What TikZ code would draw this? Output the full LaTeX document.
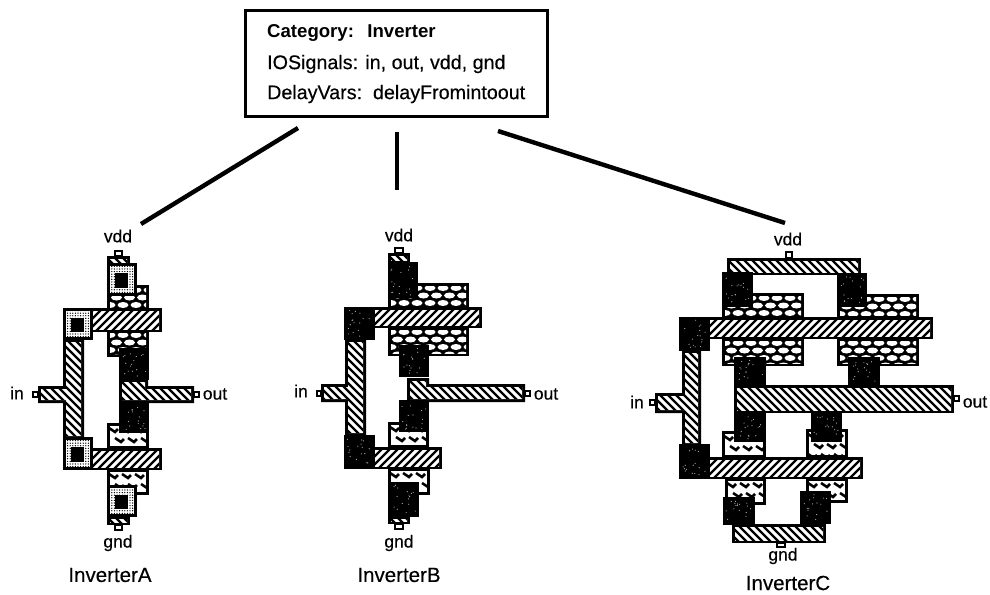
\documentclass[tikz,border=0pt]{standalone}
\usepackage{fontspec}
\setmainfont{Liberation Sans}
\newfontfamily\heavy[FakeBold=0.35]{Liberation Sans}
\usetikzlibrary{patterns.meta}
\newcommand\hlines[5]{% dir x1 y1 x2 y2
 \pgfmathsetmacro\hh{#5-#3}
 \pgfmathtruncatemacro\nn{(#4-#2+\hh)/8+1}
 \foreach \i in {0,...,\nn}{
   \pgfmathsetmacro\xa{#2-\hh+\i*8}
   \ifnum#1=0 \draw[black,line width=2.4pt] (\xa,#5) -- ++(\hh,-\hh);
   \else \draw[black,line width=2.4pt] (\xa,#3) -- ++(\hh,\hh);\fi}}
\newcommand\hbarx[5]{% dir, rect
 \fill[black] (#2,#3) rectangle (#4,#5);
 \begin{scope}\clip ({#2+3},{#3+3}) rectangle ({#4-3},{#5-3});
 \fill[white] (#2,#3) rectangle (#4,#5);
 \hlines{#1}{#2}{#3}{#4}{#5}\end{scope}}
\newcommand\hne[4]{\hbarx{0}{#1}{#2}{#3}{#4}}
\newcommand\hnw[4]{\hbarx{1}{#1}{#2}{#3}{#4}}
% output shape: x1 ytop xn y1 x2 y2
\newcommand\hout[6]{\fill[black] (#1,#2) -- (#3,#2) -- (#3,#4) -- (#5,#4) -- (#5,#6) -- (#1,#6) -- cycle;
 \begin{scope}\clip ({#1+3},{#2+3}) -- ({#3-3},{#2+3}) -- ({#3-3},{#4+3}) -- ({#5-3},{#4+3}) -- ({#5-3},{#6-3}) -- ({#1+3},{#6-3}) -- cycle;
 \fill[white] (#1,#2) rectangle (#5,#6);
 \hlines{1}{#1}{#2}{#5}{#6}\end{scope}}
% vertical poly with stub: vx1 vy1 vx2 vy2 sx sy1 sy2
\newcommand\hcross[7]{\fill[black] (#1,#2) -- (#3,#2) -- (#3,#4) -- (#1,#4) -- (#1,#7) -- (#5,#7) -- (#5,#6) -- (#1,#6) -- cycle;
 \begin{scope}\clip ({#1+3},{#2+3}) -- ({#3-3},{#2+3}) -- ({#3-3},{#4-3}) -- ({#1+3},{#4-3}) -- ({#1+3},{#7-3}) -- ({#5+3},{#7-3}) -- ({#5+3},{#6+3}) -- ({#1+3},{#6+3}) -- cycle;
 \fill[white] (#5,#2) rectangle (#3,#4);
 \hlines{1}{#5}{#2}{#3}{#4}\end{scope}}
\newcommand\scal[4]{\fill[black] (#1,#2) rectangle (#3,#4);
 \begin{scope}\clip ({#1+3},{#2+3}) rectangle ({#3-3},{#4-3});
 \foreach \r in {0,...,5}{\foreach \c in {0,...,7}{
   \pgfmathsetmacro\xx{#1+3+\c*13+mod(\r,2)*6.5}
   \pgfmathsetmacro\yy{#2+5+\r*7.5}
   \fill[white] (\xx,\yy) ellipse (5.5 and 3);}}
 \end{scope}}
\newcommand\squig[4]{\fill[black] (#1,#2) rectangle (#3,#4);
 \fill[white] ({#1+3},{#2+3}) rectangle ({#3-3},{#4-3});
 \begin{scope}\clip ({#1+3},{#2+3}) rectangle ({#3-3},{#4-3});
 \foreach \r in {0,...,3}{\foreach \c in {0,...,4}{
   \pgfmathsetmacro\xx{#1+2+\c*13+mod(\r,2)*6}
   \pgfmathsetmacro\yy{#2+5+\r*10}
   \draw[black,line width=2.6pt] (\xx,\yy) -- ++(6,4) -- ++(3,-3);}}
 \end{scope}}
\newcommand\cont[4]{\fill[black] (#1,#2) rectangle (#3,#4);
 \foreach \k in {1,...,16}{
   \pgfmathsetmacro\xx{#1+3+rnd*(#3-#1-6)}
   \pgfmathsetmacro\yy{#2+3+rnd*(#4-#2-6)}
   \fill[white!70!black] (\xx,\yy) circle (.6);}}
\newcommand\contw[4]{\fill[black] (#1,#2) rectangle (#3,#4);
 \path[fill=white,postaction={pattern={Dots[distance=2.6pt,radius=.7pt]},pattern color=black}] ({#1+3},{#2+3}) rectangle ({#3-3},{#4-3});
 \fill[black] ({#1+8},{#2+10}) rectangle ({#3-9},{#4-8});}
\newcommand\pin[4]{\draw[black,line width=1.5pt,fill=white] (#1,#2) rectangle (#3,#4);}
\tikzset{lab/.style={font=\heavy\fontsize{17.5}{20}\selectfont,inner sep=0pt,text=black},
 title/.style={font=\heavy\fontsize{20.5}{22}\selectfont,inner sep=0pt,text=black},
 link/.style={black,line width=4.4pt},
 card/.style={draw=black,line width=3.8pt,fill=white,minimum width=302pt,minimum height=106pt,inner sep=0pt},
 cardtext/.style={font=\heavy\fontsize{19.7}{22}\selectfont,anchor=west,inner sep=0pt,text=black}}
\begin{document}
\begin{tikzpicture}[x=1pt,y=-1pt]
\useasboundingbox (0,0) rectangle (990,594);
\pgfmathsetseed{7}
\fill[white] (0,0) rectangle (990,594);
% card
\node[card] (cat) at (396.5,63.5) {};
\node[cardtext,font=\fontsize{18.6}{20}\selectfont\bfseries] (c1) at (267,33) {Category:\ \ \,Inverter};
\node[cardtext] (c2) at (267,64) {IOSignals: in, out, vdd, gnd};
\node[cardtext] (c3) at (267,94) {DelayVars:\ \ delayFromintoout};
\coordinate (la) at (298,128); \coordinate (ta) at (141,224);
\coordinate (lb) at (397,132); \coordinate (tb) at (397,190);
\coordinate (lc) at (498,131); \coordinate (tc) at (785,223);
\draw[link] (la) -- (ta);
\draw[link] (lb) -- (tb);
\draw[link] (lc) -- (tc);
% Inverter A
\scal{107}{285}{149}{310}\scal{107}{330}{149}{357}
\squig{107}{423}{149}{449}\squig{107}{469}{149}{495}
\pin{115}{251}{122}{256}\hnw{107}{256}{130}{266}
\contw{107}{263}{137}{296}
\hne{63}{308}{162}{332}
\hcross{63}{339}{84}{439}{38}{386}{403}
\contw{63}{308}{93}{340}
\hne{63}{448}{162}{470}\contw{63}{437}{93}{470}
\cont{119}{348}{149}{380}\cont{119}{403}{149}{433}
\pin{33}{392}{38}{397}
\hout{119}{379}{148}{386}{194}{403}\pin{194}{392}{199}{397}
\contw{107}{485}{137}{517}\hnw{107}{516}{130}{525}\pin{115}{525}{122}{530}
% Inverter B
\scal{388}{283}{469}{308}\scal{388}{327}{469}{356}
\squig{388}{422}{429}{448}\squig{388}{468}{430}{495}
\pin{395}{248}{403}{253}\hnw{388}{253}{410}{263}
\cont{388}{262}{418}{298}
\hne{344}{307}{482}{328}
\hcross{345}{339}{366}{436}{321}{384}{402}
\cont{344}{307}{375}{340}
\hne{344}{447}{442}{469}\cont{344}{435}{375}{469}
\cont{399}{345}{429}{377}\cont{399}{400}{429}{432}
\pin{317}{391}{321}{396}
\hout{407}{378}{429}{384}{525}{402}\pin{525}{391}{530}{396}
\cont{388}{482}{419}{517}\hnw{388}{516}{410}{524}\pin{395}{524}{403}{529}
% Inverter C
\scal{722}{293}{804}{318}\scal{837}{294}{919}{318}
\scal{722}{338}{804}{366}\scal{837}{338}{919}{366}
\squig{722}{431}{766}{458}\squig{806}{429}{848}{458}
\squig{725}{478}{766}{505}\squig{806}{478}{848}{503}
\pin{786}{252}{792}{258}\hnw{727}{258}{861}{275}
\cont{722}{272}{753}{307}\cont{837}{273}{867}{307}
\hne{679}{317}{933}{339}
\hcross{682}{350}{701}{446}{655}{393}{413}
\cont{679}{317}{710}{351}
\hne{679}{457}{863}{479}\cont{679}{444}{710}{479}
\cont{734}{357}{766}{385}\cont{848}{357}{880}{385}
\cont{734}{413}{766}{442}\cont{811}{413}{842}{442}
\pin{650}{400}{655}{405}
\hnw{734}{385}{954}{413}\pin{954}{396}{959}{401}
\cont{723}{497}{755}{525}\cont{800}{491}{831}{524}
\hnw{732}{524}{826}{543}\pin{777}{543}{785}{547}
% labels
\node[lab] (av) at (118,236) {vdd};
\node[lab] (ai) at (17,393) {in};
\node[lab] (ao) at (215,394) {out};
\node[lab] (ag) at (118,543) {gnd};
\node[title] (an) at (110,575) {InverterA};
\node[lab] (bv) at (399,235) {vdd};
\node[lab] (bi) at (301,391) {in};
\node[lab] (bo) at (546,394) {out};
\node[lab] (bg) at (399,543) {gnd};
\node[title] (bn) at (399,575) {InverterB};
\node[lab] (cv) at (788,239) {vdd};
\node[lab] (ci) at (637,402) {in};
\node[lab] (co) at (975,402) {out};
\node[lab] (cg) at (783,556) {gnd};
\node[title] (cn) at (788,583) {InverterC};
\end{tikzpicture}
\end{document}
